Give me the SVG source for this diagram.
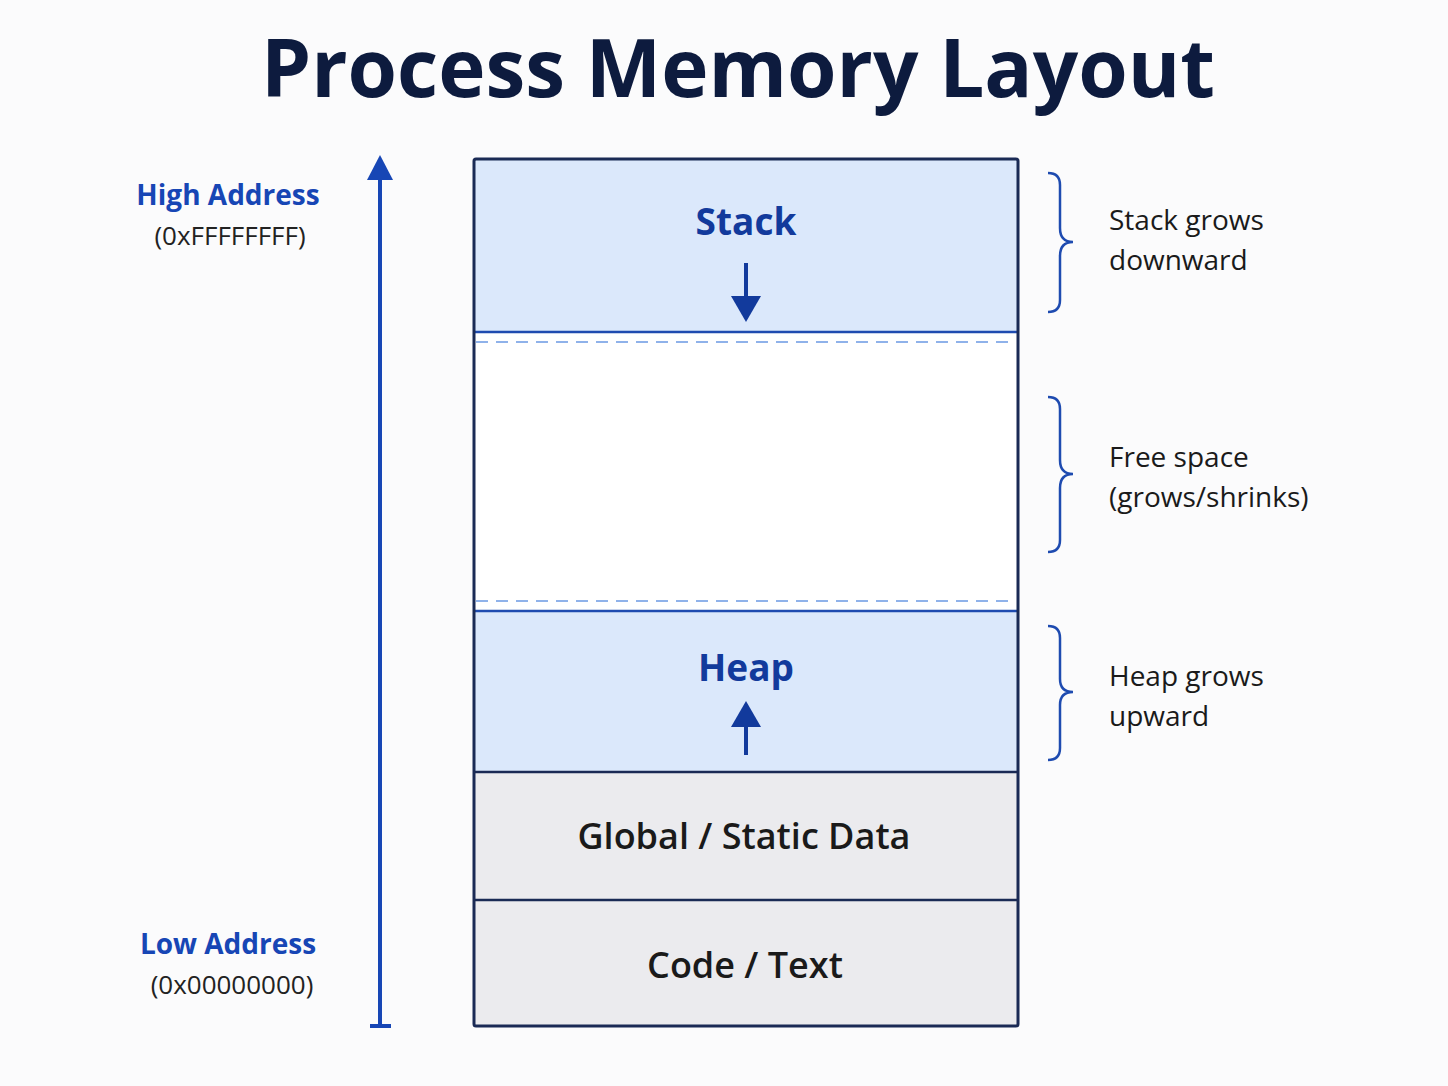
<svg xmlns="http://www.w3.org/2000/svg" width="1448" height="1086" viewBox="0 0 1448 1086">
<style>
text{font-family:"Open Sans","Noto Sans",sans-serif}
.lbl{font-size:36px;font-weight:600;text-anchor:middle;fill:#1a1a1a}
.hd{font-size:37px;font-weight:700;text-anchor:middle;fill:#123a9c}
.ax{font-size:28px;font-weight:700;text-anchor:middle;fill:#1746b5}
.axs{font-size:26px;text-anchor:middle;fill:#222}
.side{font-size:28px;fill:#1a1a1a}
.brace{fill:none;stroke:#1e4bb0;stroke-width:2.5}
</style>
<rect width="1448" height="1086" fill="#fbfbfc"/>
<text x="738" y="97" font-size="80" font-weight="700" text-anchor="middle" fill="#0d1b3e">Process Memory Layout</text>
<g id="axis">
<line x1="380" y1="1026" x2="380" y2="175" stroke="#1746b5" stroke-width="4"/>
<polygon points="380,155 367,180 393,180" fill="#1746b5"/>
<line x1="370" y1="1026" x2="391" y2="1026" stroke="#1746b5" stroke-width="4"/>
<text class="ax" x="228" y="205">High Address</text>
<text class="axs" x="230" y="245">(0xFFFFFFFF)</text>
<text class="ax" x="228" y="954">Low Address</text>
<text class="axs" x="232" y="994">(0x00000000)</text>
</g>
<g id="stack">
<rect x="474" y="159" width="544" height="173" fill="#dbe8fb"/>
<text class="hd" x="746" y="235">Stack</text>
<line x1="746" y1="263" x2="746" y2="300" stroke="#123a9c" stroke-width="4"/>
<polygon points="746,322 731,296 761,296" fill="#123a9c"/>
</g>
<g id="free">
<rect x="474" y="332" width="544" height="279" fill="#ffffff"/>
<line x1="476" y1="342" x2="1016" y2="342" stroke="#8fb2ea" stroke-width="2" stroke-dasharray="12,8"/>
<line x1="476" y1="601" x2="1016" y2="601" stroke="#8fb2ea" stroke-width="2" stroke-dasharray="12,8"/>
</g>
<g id="heap">
<rect x="474" y="611" width="544" height="161" fill="#dbe8fb"/>
<text class="hd" x="746" y="681">Heap</text>
<polygon points="746,701 731,727 761,727" fill="#123a9c"/>
<line x1="746" y1="722" x2="746" y2="755" stroke="#123a9c" stroke-width="4"/>
</g>
<g id="global">
<rect x="474" y="772" width="544" height="128" fill="#ebebee"/>
<text class="lbl" x="744" y="849">Global / Static Data</text>
</g>
<g id="code">
<rect x="474" y="900" width="544" height="126" fill="#ebebee"/>
<text class="lbl" x="745" y="978">Code / Text</text>
</g>
<g id="lines">
<line x1="474" y1="332" x2="1018" y2="332" stroke="#1e4bb0" stroke-width="2.5"/>
<line x1="474" y1="611" x2="1018" y2="611" stroke="#1e4bb0" stroke-width="2.5"/>
<line x1="474" y1="772" x2="1018" y2="772" stroke="#1a2a55" stroke-width="2.5"/>
<line x1="474" y1="900" x2="1018" y2="900" stroke="#1a2a55" stroke-width="2.5"/>
<rect x="474" y="159" width="544" height="867" fill="none" stroke="#1a2a55" stroke-width="3" rx="2"/>
</g>
<g id="braces">
<path class="brace" d="M1048,173 Q1060,173 1060,185 L1060,228 Q1060,242 1073,242 Q1060,242 1060,256 L1060,300 Q1060,312 1048,312"/>
<path class="brace" d="M1048,397 Q1060,397 1060,409 L1060,460 Q1060,474 1073,474 Q1060,474 1060,488 L1060,540 Q1060,552 1048,552"/>
<path class="brace" d="M1048,626 Q1060,626 1060,638 L1060,679 Q1060,692 1073,692 Q1060,692 1060,705 L1060,748 Q1060,760 1048,760"/>
<text class="side" x="1109" y="230">Stack grows</text>
<text class="side" x="1109" y="270">downward</text>
<text class="side" x="1109" y="467">Free space</text>
<text class="side" x="1109" y="507">(grows/shrinks)</text>
<text class="side" x="1109" y="686">Heap grows</text>
<text class="side" x="1109" y="726">upward</text>
</g>
</svg>
